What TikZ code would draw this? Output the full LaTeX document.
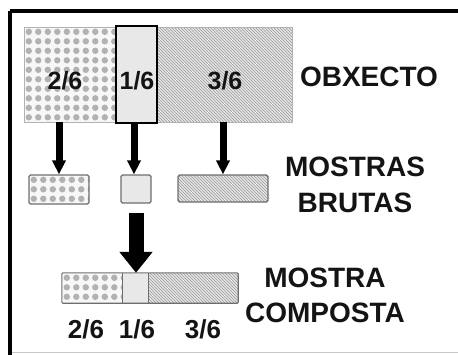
\documentclass[tikz,border=0pt]{standalone}
\usepackage{fontspec}
\setmainfont{Liberation Sans}
\usetikzlibrary{arrows.meta,patterns,calc}
\definecolor{dotcol}{HTML}{B2B2B2}
\definecolor{bgdot}{HTML}{F7F7F7}
\definecolor{hatchbg}{HTML}{E6E6E6}
\definecolor{hatchcol}{HTML}{9A9A9A}
\definecolor{lightfill}{HTML}{E8E8E8}
\definecolor{edgegray}{HTML}{6E6E6E}
\begin{document}
\begin{tikzpicture}[x=1pt,y=-1pt,
  dotbox/.style={rectangle,inner sep=0pt,fill=bgdot,
    path picture={\foreach \i in {0,...,10}{\foreach \j in {0,...,10}{
      \fill[dotcol] ($(path picture bounding box.north west)+(4.8+9.5*\i,4.8+9.5*\j)$) circle (3.2pt);}}}},
  hatchbox/.style={rectangle,inner sep=0pt,preaction={fill=hatchbg},pattern=north west lines,pattern color=hatchcol},
  plainbox/.style={rectangle,inner sep=0pt,fill=lightfill},
  bigedge/.style={draw=gray!60,line width=0.8pt},
  smalledge/.style={draw=edgegray,line width=1.2pt,rounded corners=1.5pt},
  thinarrow/.style={line width=7pt,-{Triangle[length=14pt,width=13pt]}},
  bigarrow/.style={line width=15pt,-{Triangle[length=21pt,width=32pt]}},
  lbl/.style={font=\fontsize{25}{30}\selectfont\bfseries,text=black!92,inner sep=0pt},
  big/.style={font=\fontsize{28}{36}\selectfont\bfseries,text=black!92,inner sep=0pt,align=center}
]
\useasboundingbox (0,0) rectangle (458,354);
% frame
\draw[line width=3.5pt] (10,11) -- (462,11);
\draw[line width=3.5pt] (10,11) -- (10,356);
\draw[gray!45,line width=1pt] (11.75,352.5) -- (458,352.5);

% object
\node[dotbox,bigedge,minimum width=92pt,minimum height=95pt] (objA) at (70,74.5) {};
\node[hatchbox,bigedge,minimum width=135pt,minimum height=95pt] (objC) at (224.5,74.5) {};
\node[plainbox,draw=black,line width=1.8pt,minimum width=41pt,minimum height=97pt] (objB) at (136.5,74.5) {};
\node[lbl] (tA) at (65,81) {2/6};
\node[lbl] (tB) at (137,81) {1/6};
\node[lbl] (tC) at (225,81) {3/6};
\node[big] (obxecto) at (369,77) {OBXECTO};

% raw samples
\node[dotbox,smalledge,minimum width=60pt,minimum height=29pt] (bA) at (59,189.5) {};
\node[plainbox,smalledge,minimum width=30pt,minimum height=28pt] (bB) at (136,189) {};
\node[hatchbox,smalledge,minimum width=90pt,minimum height=27pt] (bC) at (223,188.5) {};
\node[big] (brutas) at (355,185) {MOSTRAS\\BRUTAS};

\draw[thinarrow] (bA.north |- objA.south) -- (bA.north);
\draw[thinarrow] (134,123) coordinate (oB) -- (oB |- bB.north);
\draw[thinarrow] (bC.north |- objC.south) -- (bC.north);

% composite
\node[dotbox,minimum width=61pt,minimum height=30pt] (cA) at (92.5,288) {};
\node[plainbox,minimum width=25pt,minimum height=30pt] (cB) at (135.5,288) {};
\node[hatchbox,minimum width=90pt,minimum height=30pt] (cC) at (193,288) {};
\draw[edgegray,line width=1.1pt,rounded corners=1pt] (cA.north west) rectangle (cC.south east);
\draw[edgegray,line width=1pt] (cB.north west) -- (cB.south west) (cB.north east) -- (cB.south east);
\draw[bigarrow,shorten <=9pt] (bB.south) -- (bB.south |- cB.north);

\node[lbl,font=\fontsize{26}{30}\selectfont\bfseries] (lA) at (86,329) {2/6};
\node[lbl,font=\fontsize{26}{30}\selectfont\bfseries] (lB) at (137,329) {1/6};
\node[lbl,font=\fontsize{26}{30}\selectfont\bfseries] (lC) at (203,329) {3/6};
\node[big,font=\fontsize{28}{35}\selectfont\bfseries] (composta) at (325,295) {MOSTRA\\COMPOSTA};
\end{tikzpicture}
\end{document}
